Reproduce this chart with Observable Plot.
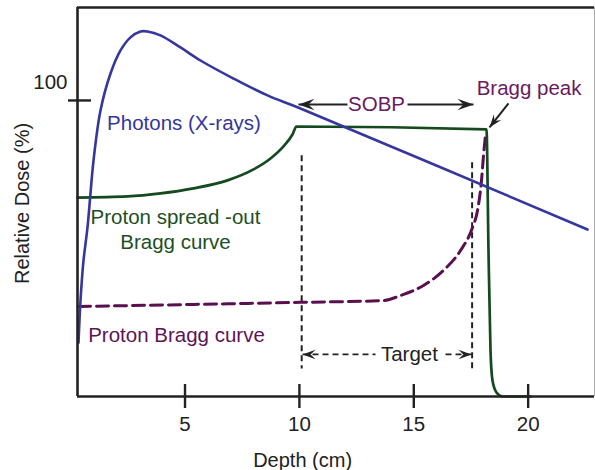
<!DOCTYPE html>
<html>
<head>
<meta charset="utf-8">
<script src="https://cdn.jsdelivr.net/npm/d3@7"></script>
<script src="https://cdn.jsdelivr.net/npm/@observablehq/plot@0.6"></script>
<style>
  html, body { margin: 0; padding: 0; background: #fff; }
  #chart svg { display: block; }
</style>
</head>
<body>
<div id="chart"></div>
<script>
// ---- data ----
const xTicks = [5, 10, 15, 20];
const yTicks = [100];

// Photons (X-rays) depth-dose curve
const photonX = [0.344, 0.431, 0.562, 0.737, 0.868, 1.0, 1.305, 1.743, 2.18, 2.617, 3.054, 3.36, 3.928, 4.802, 5.677, 7.12, 8.606, 10.048, 22.594];
const photonY = [18.2, 32.4, 45.9, 57.1, 68.6, 79.7, 96.6, 109.1, 116.9, 121.3, 123.3, 123.3, 122.0, 117.9, 113.5, 107.4, 101.7, 97.3, 56.4];

// Proton spread-out Bragg curve (SOBP)
const sobpX = [0.3, 2.486, 3.928, 5.371, 6.857, 7.994, 8.737, 9.305, 9.698, 9.873, 18.179, 18.266, 18.354, 18.441, 18.616, 18.878, 20.103];
const sobpY = [67.2, 67.6, 68.6, 70.3, 73.0, 76.7, 80.4, 84.5, 88.5, 91.2, 90.2, 49.3, 15.5, 5.4, 1.35, 0, 0];

// Proton (pristine) Bragg curve
const braggX = [0.344, 10.048, 13.676, 14.419, 15.425, 16.299, 17.042, 17.567, 17.786, 17.961, 18.048, 18.135];
const braggY = [30.4, 31.8, 32.4, 34.1, 37.5, 42.6, 49.3, 57.1, 62.8, 73.0, 81.4, 88.2];

// Target boundaries (dashed verticals)
const targetX = [10.1, 17.55];
const targetTop = [81.5, 79.1];
const targetBottom = 9.5;

// Annotation anchors (data units)
const sobpArrowY = 98.6;
const sobpArrowSegs = [[9.96, 12.10], [14.725, 17.61]];
const sobpLabel = {text: "SOBP", x: 13.37, y: 98.6};
const targetArrowY = 14.2;
const targetArrowSegs = [[10.136, 13.327], [16.387, 17.523]];
const targetLabel = {text: "Target", x: 14.81, y: 14.2};
const braggPeakLabel = {text: "Bragg peak", x: 20.04, y: 104.1};
const braggArrow = {x1: 19.14, y1: 99.0, x2: 18.31, y2: 90.9};
const curveLabels = [
  {text: "Photons (X-rays)", x: 4.956, y: 92.2, color: "#35369a"},
  {text: "Proton spread -out", x: 4.584, y: 60.5, color: "#1d4f24"},
  {text: "Bragg curve", x: 4.584, y: 52.0, color: "#1d4f24"},
  {text: "Proton Bragg curve", x: 4.628, y: 20.6, color: "#5e1456"}
];
const xLabel = {text: "Depth (cm)", x: 10.14};
const yLabel = {text: "Relative Dose (%)", y: 65.2};

// ---- layout / style ----
const W = 595, H = 470;
const mL = 77, mR = 1, mT = 7, mB = 74;
const frameW = W - mL - mR, frameH = H - mT - mB;
const xDomain = [0.3, 22.9];
const yDomain = [0, 131.4];
const BLUE = "#36379e", GREEN = "#154a1f", PURPLE = "#5a0f4f", INK = "#222";
const FONT = "Liberation Sans, Arial, Helvetica, sans-serif";

const toRows = (xs, ys) => xs.map((x, i) => ({x, y: ys[i]}));

function head(angleDeg) {
  const a = angleDeg * Math.PI / 180, c = Math.cos(a), s = Math.sin(a);
  const pts = [[0, 0], [-1, -0.36], [-0.62, 0], [-1, 0.36]];
  return {draw(ctx, size) {
    const L = Math.sqrt(size / Math.PI);
    pts.forEach(([px, py], i) => {
      const X = (px * c - py * s) * L, Y = (px * s + py * c) * L;
      i ? ctx.lineTo(X, Y) : ctx.moveTo(X, Y);
    });
    ctx.closePath();
  }};
}

const braggAngle = Math.atan2(24, -19) * 180 / Math.PI;

const plot = Plot.plot({
  width: W, height: H,
  marginLeft: mL, marginRight: mR, marginTop: mT, marginBottom: mB,
  x: {domain: xDomain, axis: null},
  y: {domain: yDomain, axis: null},
  style: {fontFamily: FONT, fontSize: "20px", background: "#fff", overflow: "visible"},
  marks: [
    // target dashed verticals
    Plot.link(targetX.map((x, i) => ({x, y1: targetTop[i], y2: targetBottom})),
      {x1: "x", x2: "x", y1: "y1", y2: "y2", stroke: INK, strokeWidth: 2, strokeDasharray: "6,4"}),
    // proton Bragg curve
    Plot.line(toRows(braggX, braggY), {x: "x", y: "y", stroke: PURPLE, strokeWidth: 3, strokeDasharray: "12,6", curve: "monotone-x"}),
    // SOBP
    Plot.line(toRows(sobpX, sobpY), {x: "x", y: "y", stroke: GREEN, strokeWidth: 2.7, curve: "monotone-x"}),
    // photons
    Plot.line(toRows(photonX, photonY), {x: "x", y: "y", stroke: BLUE, strokeWidth: 2.6, curve: "catmull-rom"}),

    // frame
    Plot.ruleX([xDomain[1]], {stroke: "#aaa", strokeWidth: 1}),
    Plot.ruleY([yDomain[1]], {stroke: INK, strokeWidth: 2.6}),
    Plot.ruleX([xDomain[0]], {stroke: INK, strokeWidth: 2.6}),
    Plot.ruleY([yDomain[0]], {stroke: INK, strokeWidth: 2.6}),
    // ticks crossing the axes
    Plot.tickX(xTicks, {x: d => d, insetTop: frameH - 12, insetBottom: -12, stroke: INK, strokeWidth: 2.4}),
    Plot.tickY(yTicks, {y: d => d, insetLeft: -9, insetRight: frameW - 14, stroke: INK, strokeWidth: 2.4}),
    Plot.text(xTicks, {x: d => d, y: yDomain[0], dy: 28, text: d => String(d), fill: INK, fontSize: 20.5}),
    Plot.text(yTicks, {x: xDomain[0], y: d => d, dx: -10, dy: -18, text: d => String(d), textAnchor: "end", fill: INK, fontSize: 20.5}),
    Plot.text([xLabel], {x: "x", y: yDomain[0], dy: 64, text: "text", fill: INK, fontSize: 20}),
    Plot.text([yLabel], {x: xDomain[0], y: "y", dx: -55, text: "text", rotate: -90, fill: INK, fontSize: 20}),

    // SOBP arrow
    Plot.link(sobpArrowSegs, {x1: d => d[0], x2: d => d[1], y1: sobpArrowY, y2: sobpArrowY, stroke: INK, strokeWidth: 2}),
    Plot.dot([sobpArrowSegs[0][0]], {x: d => d, y: sobpArrowY, r: 16, symbol: head(180), fill: INK, stroke: "none"}),
    Plot.dot([sobpArrowSegs[1][1]], {x: d => d, y: sobpArrowY, r: 16, symbol: head(0), fill: INK, stroke: "none"}),
    Plot.text([sobpLabel], {x: "x", y: "y", text: "text", fill: "#6a1a60", fontSize: 20.5}),

    // Target arrow
    Plot.link(targetArrowSegs, {x1: d => d[0], x2: d => d[1], y1: targetArrowY, y2: targetArrowY, stroke: INK, strokeWidth: 1.8, strokeDasharray: "6,4"}),
    Plot.dot([targetArrowSegs[0][0]], {x: d => d, y: targetArrowY, r: 13, symbol: head(180), fill: INK, stroke: "none"}),
    Plot.dot([targetArrowSegs[1][1]], {x: d => d, y: targetArrowY, r: 13, symbol: head(0), fill: INK, stroke: "none"}),
    Plot.text([targetLabel], {x: "x", y: "y", text: "text", fill: INK, fontSize: 20.5}),

    // Bragg peak label + arrow
    Plot.text([braggPeakLabel], {x: "x", y: "y", text: "text", fill: "#6a1a60", fontSize: 20.5}),
    Plot.link([braggArrow], {x1: "x1", y1: "y1", x2: "x2", y2: "y2", stroke: INK, strokeWidth: 2}),
    Plot.dot([braggArrow], {x: "x2", y: "y2", r: 13, symbol: head(braggAngle), fill: INK, stroke: "none"}),

    // curve labels
    Plot.text(curveLabels, {x: "x", y: "y", text: "text", fill: "color", fontSize: 20.5})
  ]
});
document.getElementById("chart").appendChild(plot);
</script>
</body>
</html>
